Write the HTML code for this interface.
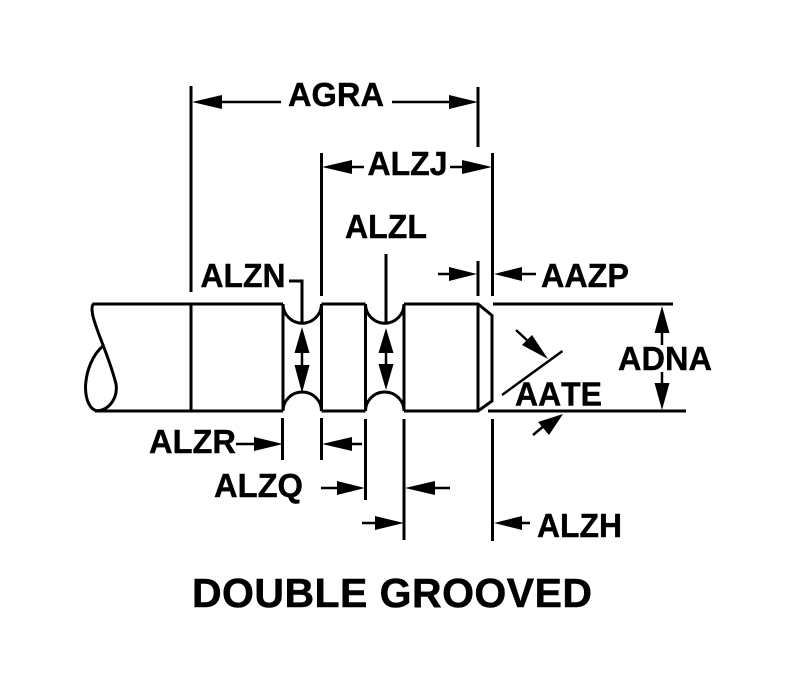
<!DOCTYPE html>
<html>
<head>
<meta charset="utf-8">
<style>
html,body{margin:0;padding:0;background:#fff;}
svg{display:block;}
text{font-family:"Liberation Sans",Arial,sans-serif;font-weight:bold;font-size:33.5px;fill:#000;stroke:#000;stroke-width:.4px;font-kerning:none;}
.l{fill:none;stroke:#000;stroke-width:3;}
.t{fill:none;stroke:#000;stroke-width:2.5;}
</style>
</head>
<body>
<svg width="794" height="682" viewBox="0 0 794 682" xmlns="http://www.w3.org/2000/svg">
<rect width="794" height="682" fill="#fff"/>

<!-- part outline -->
<g class="l">
<path d="M283 304H93.500C91 306 92 314 94 320C97 330 100 337 103 345C108 358 113 372 116 384C118 397 110 411 95 411H283"/>
<path d="M103 346C92 355 86 372 85.500 387C85.500 400 90 411 99 411"/>
<path d="M191 304V411"/>
<path d="M283 304V411M321.500 304V411M365.500 304V411M404 304V411"/>
<path d="M283 304A19.250 19.250 0 0 0 321.500 304"/>
<path d="M283 411A19.250 19 0 0 1 321.500 411"/>
<path d="M365.500 304A19.250 19.250 0 0 0 404 304"/>
<path d="M365.500 411A19.250 19 0 0 1 404 411"/>
<path d="M321.500 304H365.500M321.500 411H365.500M404 304H478L492 315.500V401L478 411H404"/>
<path d="M478 304V411"/>
</g>

<!-- extension lines -->
<g class="l">
<path d="M191 86V292"/>
<path d="M478 87V147"/>
<path d="M321.500 153V296"/>
<path d="M492.500 153V296"/>
<path d="M478 261V296"/>
<path d="M386 254V323"/>
<path d="M289 281H302V323"/>
<path d="M493 304H673"/>
<path d="M488 411H686"/>
<path d="M282.500 418V460"/>
<path d="M321.500 418V460"/>
<path d="M365.500 419V500"/>
<path d="M404 419V540"/>
<path d="M492.500 419V541"/>
</g>

<!-- dimension shafts -->
<g class="t">
<path d="M222 102H281M392 102H449"/>
<path d="M352 167H364M450 167H462"/>
<path d="M438 274H450M522 274H536"/>
<path d="M236 444H255M352 444H362"/>
<path d="M321 488H338M435 488H450"/>
<path d="M362 523H376M522 523H530"/>
<path d="M302 350V368M386 350V368"/>
<path d="M662 330V345M662 372V385"/>
<path d="M516 330L530 343"/>
<path d="M533 435L545 425"/>
<path d="M502 395L562.500 351"/>
</g>

<!-- arrowheads -->
<g fill="#000">
<polygon points="192,102 222,95 222,109"/>
<polygon points="478,102 449,95 449,109"/>
<polygon points="322,167 352,160 352,174"/>
<polygon points="492,167 462,160 462,174"/>
<polygon points="477,274 449,267 449,281"/>
<polygon points="494,274 522,267 522,281"/>
<polygon points="283,444 254,437 254,451"/>
<polygon points="322,444 352,437 352,451"/>
<polygon points="365,488 337,481 337,495"/>
<polygon points="405,488 435,481 435,495"/>
<polygon points="404,523 375,516 375,530"/>
<polygon points="494,523 522,516 522,530"/>
<polygon points="302,327 294.500,353 309.500,353"/>
<polygon points="302,393 294.500,365 309.500,365"/>
<polygon points="386,328 378.500,353 393.500,353"/>
<polygon points="386,390 378.500,364 393.500,364"/>
<polygon points="662,306 654.500,333 669.500,333"/>
<polygon points="662,410 654.500,383 669.500,383"/>
<polygon points="548,359 522,345 532,335"/>
<polygon points="563,414 549,435 538,422"/>
</g>

<!-- labels -->
<text x="288" y="106" textLength="96" lengthAdjust="spacingAndGlyphs">AGRA</text>
<text x="367.500" y="175" textLength="80" lengthAdjust="spacingAndGlyphs">ALZJ</text>
<text x="345" y="238" textLength="82" lengthAdjust="spacingAndGlyphs">ALZL</text>
<text x="200.500" y="287" textLength="85" lengthAdjust="spacingAndGlyphs">ALZN</text>
<text x="541" y="287" textLength="88" lengthAdjust="spacingAndGlyphs">AAZP</text>
<text x="618" y="370" textLength="94" lengthAdjust="spacingAndGlyphs">ADNA</text>
<text x="515" y="405.500" textLength="87" lengthAdjust="spacingAndGlyphs">AATE</text>
<text x="149" y="453" textLength="87" lengthAdjust="spacingAndGlyphs">ALZR</text>
<text x="214" y="497" textLength="89" lengthAdjust="spacingAndGlyphs">ALZQ</text>
<text x="537" y="537" textLength="85" lengthAdjust="spacingAndGlyphs">ALZH</text>
<text x="192" y="607" style="font-size:41px;stroke-width:.5px" textLength="400">DOUBLE GROOVED</text>
</svg>
</body>
</html>
